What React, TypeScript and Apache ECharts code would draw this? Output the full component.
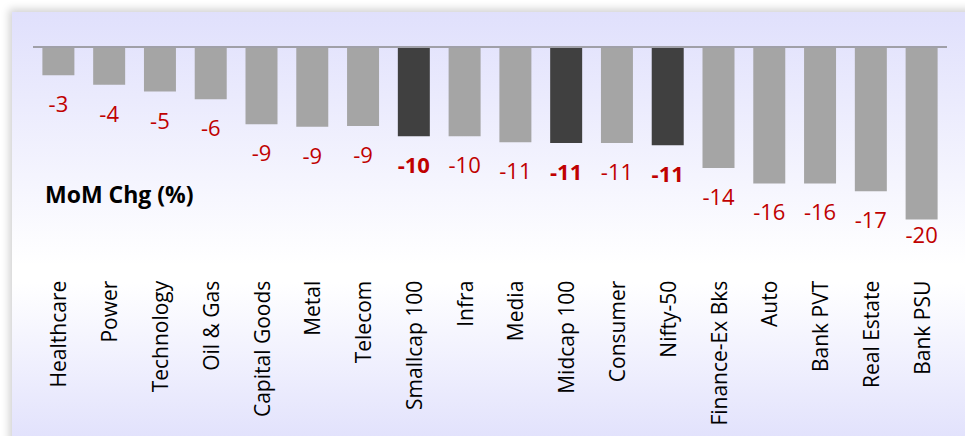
import React, { useEffect, useRef } from "react";
import * as echarts from "echarts";

const categories = [
  "Healthcare", "Power", "Technology", "Oil & Gas", "Capital Goods", "Metal",
  "Telecom", "Smallcap 100", "Infra", "Media", "Midcap 100", "Consumer",
  "Nifty-50", "Finance-Ex Bks", "Auto", "Bank PVT", "Real Estate", "Bank PSU",
];
const momChange = [
  -3.3, -4.4, -5.2, -6.1, -9.0, -9.3, -9.2, -10.4, -10.4, -11.1, -11.2, -11.2,
  -11.45, -14.1, -15.9, -15.9, -16.8, -20.1,
];
const indexCategories = ["Smallcap 100", "Midcap 100", "Nifty-50"];
const yMin = -27;
const yMax = 0;
const chartLabel = "MoM Chg (%)";

export default function App() {
  const ref = useRef<HTMLDivElement>(null);
  useEffect(() => {
    if (!ref.current) return;
    const chart = echarts.init(ref.current, null, { renderer: "svg" });
    const gridTop = 47;
    const gridHeight = 231.7;
    const pxPerUnit = gridHeight / (yMax - yMin);
    const labelOffset = 17;
    const labelCenterLimit = 235;
    const data = momChange.map((v, i) => {
      const isIndex = indexCategories.includes(categories[i]);
      const endPx = gridTop + -v * pxPerUnit;
      const dist = Math.min(labelOffset, labelCenterLimit - 12 - endPx);
      return {
        value: v,
        itemStyle: { color: isIndex ? "#404040" : "#A5A5A5" },
        label: { fontWeight: isIndex ? "bold" : "normal", distance: dist },
      };
    });
    chart.setOption({
      animation: false,
      backgroundColor: "transparent",
      grid: { left: 33, right: 18, top: gridTop, height: gridHeight },
      xAxis: {
        type: "category",
        data: categories,
        axisLine: { show: false, onZero: false },
        axisTick: { show: false },
        axisLabel: {
          rotate: 90,
          margin: 2,
          interval: 0,
          color: "#000",
          fontFamily: "Open Sans",
          fontSize: 21,
        },
      },
      yAxis: {
        type: "value",
        min: yMin,
        max: yMax,
        show: false,
        splitLine: { show: false },
      },
      graphic: [
        {
          type: "text",
          left: 45,
          top: 182,
          style: {
            text: chartLabel,
            fill: "#000",
            font: "bold 23px 'Open Sans'",
          },
        },
      ],
      series: [
        {
          type: "bar",
          data,
          barWidth: "63%",
          label: {
            show: true,
            position: "bottom",
            color: "#C00000",
            fontFamily: "Open Sans",
            fontSize: 22,
            formatter: (p: any) => String(Math.round(p.value)),
          },
          markLine: {
            silent: true,
            symbol: "none",
            label: { show: false },
            lineStyle: { color: "#A0A0A8", width: 2, type: "solid" },
            data: [{ yAxis: 0 }],
          },
        },
      ],
    });
    return () => chart.dispose();
  }, []);
  return (
    <div style={{ position: "fixed", left: 0, top: 0, width: 965, height: 436, background: "#fff", overflow: "hidden" }}>
      <div
        style={{
          position: "absolute",
          left: 12,
          top: 12,
          width: 965,
          height: 436,
          background: "linear-gradient(to bottom, #E0E0FC 0%, #FFFFFF 58%, #FFFFFF 62%, #E0E0FC 100%)",
          boxShadow: "-3px -3px 8px rgba(0,0,0,0.18)",
        }}
      />
      <div ref={ref} style={{ position: "absolute", left: 0, top: 0, width: 965, height: 436 }} />
    </div>
  );
}
